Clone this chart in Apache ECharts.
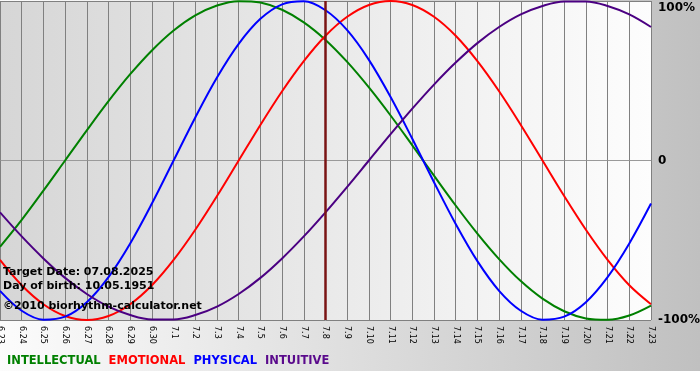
<!DOCTYPE html>
<html>
<head>
<meta charset="utf-8">
<script src="https://cdn.jsdelivr.net/npm/echarts@6/dist/echarts.min.js"></script>
<style>html,body{margin:0;padding:0;background:#fff}#c{width:700px;height:380px}</style>
</head>
<body>
<div id="c"></div>
<script>
var days = ['6.23','6.24','6.25','6.26','6.27','6.28','6.29','6.30','7.1','7.2','7.3','7.4','7.5','7.6','7.7','7.8','7.9','7.10','7.11','7.12','7.13','7.14','7.15','7.16','7.17','7.18','7.19','7.20','7.21','7.22','7.23'];
var intellectual = [-54.1,-37.2,-18.9,0,18.9,37.2,54.1,69.0,81.5,91.0,97.2,99.9,99.0,94.5,86.6,75.6,61.8,45.8,28.2,9.5,-9.5,-28.2,-45.8,-61.8,-75.6,-86.6,-94.5,-99.0,-99.9,-97.2,-91.0];
var emotional = [-62.3,-78.2,-90.1,-97.5,-100,-97.5,-90.1,-78.2,-62.3,-43.4,-22.3,0,22.3,43.4,62.3,78.2,90.1,97.5,100,97.5,90.1,78.2,62.3,43.4,22.3,0,-22.3,-43.4,-62.3,-78.2,-90.1];
var physical = [-81.7,-94.2,-99.8,-97.9,-88.8,-73.1,-52.0,-27.0,0,27.0,52.0,73.1,88.8,97.9,99.8,94.2,81.7,63.1,39.8,13.6,-13.6,-39.8,-63.1,-81.7,-94.2,-99.8,-97.9,-88.8,-73.1,-52.0,-27.0];
var intuitive = [-32.5,-47.6,-61.4,-73.6,-83.7,-91.6,-96.9,-99.7,-99.7,-96.9,-91.6,-83.7,-73.6,-61.4,-47.6,-32.5,-16.5,0,16.5,32.5,47.6,61.4,73.6,83.7,91.6,96.9,99.7,99.7,96.9,91.6,83.7];
var targetDay = '7.8';
var infoLines = ['Target Date: 07.08.2025', 'Day of birth: 10.05.1951', '\u00a92010 biorhythm-calculator.net'];
var names = ['INTELLECTUAL','EMOTIONAL','PHYSICAL','INTUITIVE'];
var colors = ['#008000','#ff0000','#0000ff','#4b0082'];
var legendColors = ['#008000','#ff0000','#0000ff','#5a0a8c'];
var yTicks = {'100':'{t|100%}','0':'0','-100':'-100%'};

var chart = echarts.init(document.getElementById('c'), null, {renderer:'canvas'});
var font = 'DejaVu Sans, Verdana, sans-serif';
var seriesData = [intellectual, emotional, physical, intuitive];
var series = seriesData.map(function(d, k){
  var s = {
    name: names[k], type:'line', data:d, smooth:0.35, symbol:'none',
    lineStyle:{color:colors[k], width:2}, itemStyle:{color:colors[k]},
    clip:false, z:3
  };
  if (k === 0) {
    s.markLine = {
      silent:true, symbol:'none', label:{show:false},
      lineStyle:{color:'#7a1414', width:2.5, type:'solid'},
      data:[{xAxis: targetDay}], z:4
    };
  }
  return s;
});
chart.setOption({
  animation:false,
  backgroundColor:{type:'linear', x:0, y:0, x2:1, y2:0, colorStops:[{offset:0,color:'#fcfcfc'},{offset:1,color:'#c0c0c0'}]},
  grid:{left:0, right:49, top:1, bottom:60, show:true, borderWidth:0, containLabel:false, outerBoundsMode:'none',
    backgroundColor:{type:'linear', x:0, y:0, x2:1, y2:0, colorStops:[{offset:0,color:'#d6d6d6'},{offset:1,color:'#fdfdfd'}]}},
  legend:{
    left:-3, top:349, icon:'none', itemWidth:0, itemHeight:14, itemGap:3, selectedMode:false,
    textStyle:{fontFamily:font, fontWeight:'bold', fontSize:11.5},
    data: names.map(function(n,k){ return {name:n, textStyle:{color:legendColors[k]}}; })
  },
  xAxis:{
    type:'category', data:days, boundaryGap:false,
    axisLine:{show:true, lineStyle:{color:'#9a9a9a', width:1}},
    axisTick:{show:true, length:4, interval:0, lineStyle:{color:'#808080'}},
    axisLabel:{interval:0, rotate:-90, fontSize:8, fontFamily:font, color:'#000', margin:6, hideOverlap:false},
    splitLine:{show:true, interval:0, lineStyle:{color:'#808080', width:1}}
  },
  yAxis:{
    type:'value', position:'right', min:-100, max:100, interval:100,
    axisLine:{show:false}, axisTick:{show:false},
    splitLine:{show:true, lineStyle:{color:'#808080', width:1}},
    axisLabel:{margin:7, fontFamily:font, fontWeight:'bold', fontSize:12, color:'#000',
      formatter:function(v){ return yTicks[String(v)]; },
      rich:{t:{fontFamily:font, fontWeight:'bold', fontSize:12, color:'#000', padding:[13,0,0,0]}}}
  },
  graphic:[
    {type:'rect', left:0, top:371, z:-10, shape:{width:700, height:9}, style:{fill:'#ffffff'}},
    {type:'text', left:3, top:267, z:100, style:{text:infoLines[0], font:'bold 11px DejaVu Sans', fill:'#000'}},
    {type:'text', left:3, top:281, z:100, style:{text:infoLines[1], font:'bold 11px DejaVu Sans', fill:'#000'}},
    {type:'text', left:3, top:301, z:100, style:{text:infoLines[2], font:'bold 11px DejaVu Sans', fill:'#000'}}
  ],
  series:series
});
</script>
</body>
</html>
